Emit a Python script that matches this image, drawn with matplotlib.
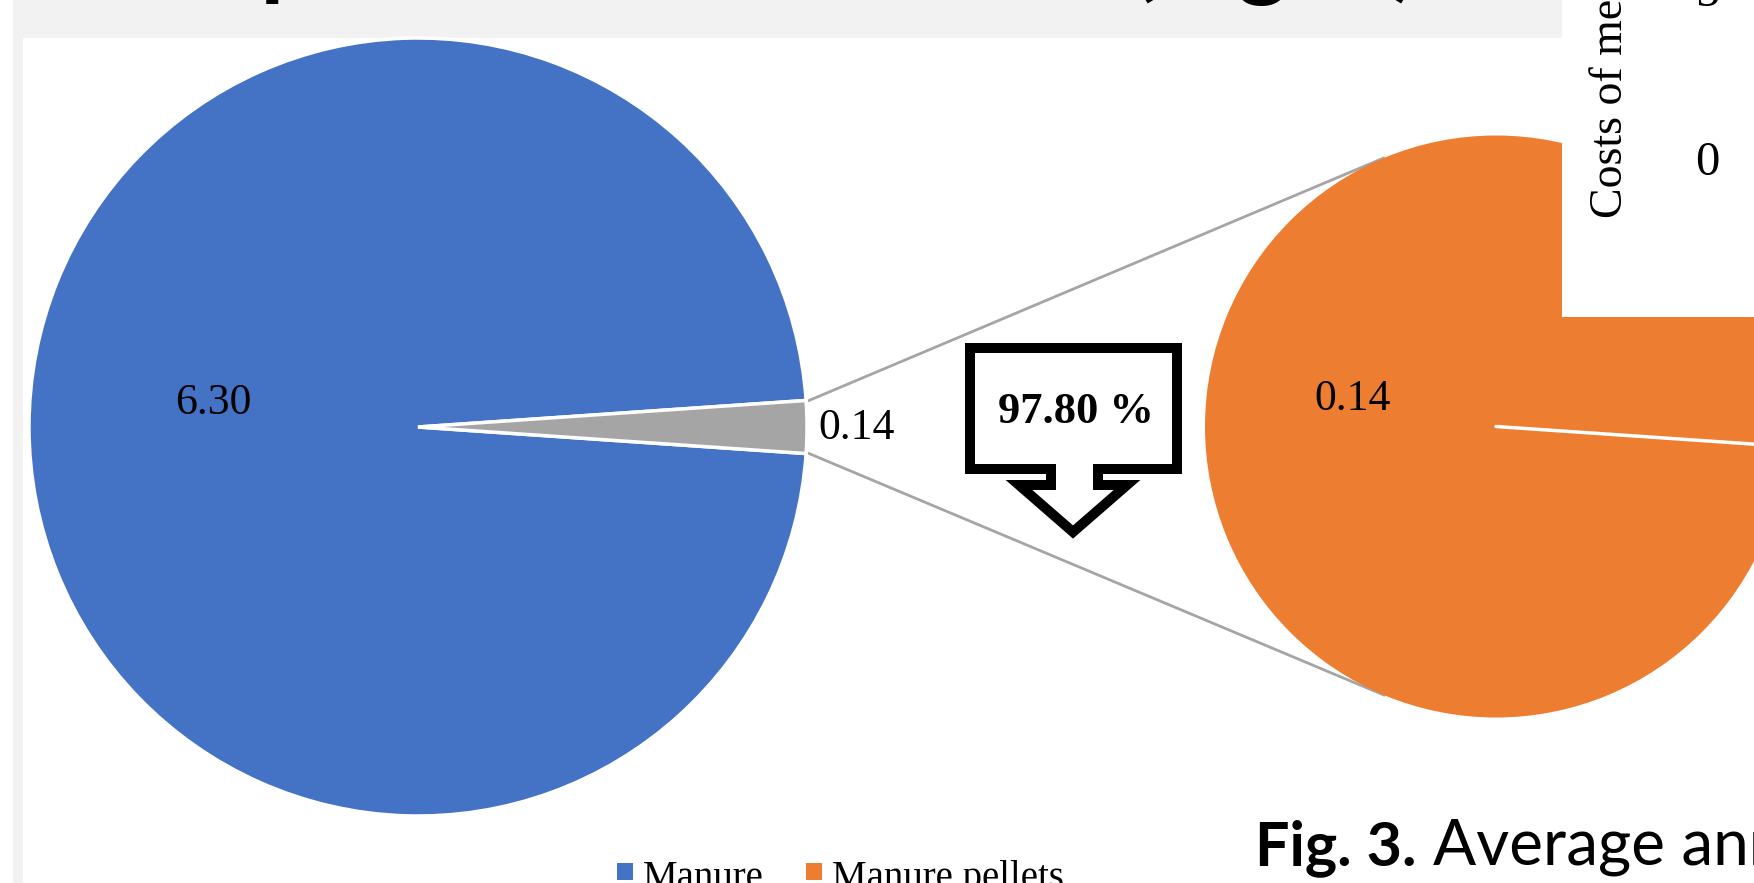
import numpy as np
import matplotlib
matplotlib.use("Agg")
import matplotlib.pyplot as plt
from matplotlib.patches import Rectangle, Polygon
from matplotlib.font_manager import FontProperties
from matplotlib.textpath import TextPath

# ---------------- data ----------------
categories = ["Manure", "Manure pellets"]
costs = [6.30, 0.14]
label_texts = ["6.30", "0.14"]
reduction_text = "97.80 %"
inset_ylabel = "Costs of measures"
inset_ticks = ["0", "5"]
title_text = "Comparison of the costs (Fig. 3)"
caption_bold = "Fig. 3."
caption_rest = "Average annual costs of manure"

# ---------------- style ----------------
BLUE = "#4472C4"
ORANGE = "#ED7D31"
GREY = "#A5A5A5"
BAND = "#F2F2F2"
SERIF = "Liberation Serif"
SANS = "Lato"
DPI = 100

W, H = 1754, 883
fig = plt.figure(figsize=(W / DPI, H / DPI), dpi=DPI)
fig.patch.set_facecolor("white")
ax = fig.add_axes([0, 0, 1, 1])


def Y(y):
    return H - y


# slide background pieces
ax.add_patch(Rectangle((13, Y(38)), 1562 - 13, 38, color=BAND, zorder=0, lw=0))
ax.add_patch(Rectangle((13, 0), 10, H, color=BAND, zorder=0, lw=0))

# ---------------- title (only descenders visible at top edge) ----------------
ref_size = 60.0
fp = FontProperties(family=SANS, weight="bold")


def ext(s):
    return TextPath((0, 0), s, size=ref_size, prop=fp).get_extents()


left_ink = ext(title_text).x0


def center_of(i):
    c = ext(title_text[: i + 1]).x1 - ext(title_text[i]).width / 2.0
    return (c - left_ink) * DPI / 72.0


idx = [title_text.index("p"), title_text.index("("), title_text.index("g"),
       title_text.index(")")]
targets = np.array([287.0, 1141.0, 1253.0, 1409.0])
u = np.array([center_of(i) for i in idx])
A = np.vstack([np.ones_like(u), u]).T
x0, s = np.linalg.lstsq(A, targets, rcond=None)[0]
title_size = ref_size * s
ax.text(x0, Y(6), title_text, fontsize=title_size, fontweight="bold",
        family=SANS, ha="left", va="bottom", color="black", zorder=1)

# ---------------- main pie ----------------
total = sum(costs)
half = 180.0 * costs[1] / total  # half angle of the small slice (deg)
c1 = (418, Y(427))
r1 = 389
ax.pie(costs, colors=[BLUE, GREY], startangle=half, counterclock=True,
       center=c1, radius=r1, frame=True,
       wedgeprops=dict(edgecolor="white", linewidth=2.5, zorder=2))

# ---------------- secondary pie ----------------
c2 = (1496, Y(426.5))
r2 = 291
ax.pie([costs[1]], colors=[ORANGE], startangle=-half, center=c2, radius=r2,
       frame=True, wedgeprops=dict(edgecolor="none", zorder=2))
a = np.deg2rad(-half)
ax.plot([c2[0], c2[0] + r2 * 1.2 * np.cos(a)], [c2[1], c2[1] + r2 * 1.2 * np.sin(a)],
        color="white", lw=2.5, solid_capstyle="round", zorder=3)

# connector lines (tangent from slice corners to secondary pie)
for sgn in (1, -1):
    ang = np.deg2rad(sgn * half)
    P = np.array([c1[0] + r1 * np.cos(ang), c1[1] + r1 * np.sin(ang)])
    C = np.array(c2)
    d = np.linalg.norm(P - C)
    base = np.arctan2(P[1] - C[1], P[0] - C[0])
    t = base - sgn * np.arccos(r2 / d)
    T = C + r2 * np.array([np.cos(t), np.sin(t)])
    ax.plot([P[0] + 3, T[0]], [P[1], T[1]], color=GREY, lw=2.0, zorder=1.5)

# data labels
ax.text(213, Y(403), label_texts[0], family=SERIF, fontsize=31.5, ha="center",
        va="center", zorder=4)
ax.text(818, Y(428), label_texts[1], family=SERIF, fontsize=31.5, ha="left",
        va="center", zorder=4)
ax.text(1353, Y(399), label_texts[1], family=SERIF, fontsize=31.5, ha="center",
        va="center", zorder=4)

# ---------------- callout arrow ----------------
pts = [(970, 348), (1177, 348), (1177, 469), (1098, 469), (1098, 485),
       (1127, 485), (1073, 532), (1019, 485), (1051, 485), (1051, 469),
       (970, 469)]
ax.add_patch(Polygon([(x, Y(y)) for x, y in pts], closed=True, facecolor="white",
                     edgecolor="black", lw=7.2, joinstyle="miter", zorder=5))
ax.text(1076, Y(412), reduction_text, family=SERIF, fontweight="bold", fontsize=32,
        ha="center", va="center", zorder=6)

# ---------------- legend ----------------
leg_colors = [BLUE, ORANGE]
leg_x = [617, 806]
for cx, col, lab in zip(leg_x, leg_colors, categories):
    ax.add_patch(Rectangle((cx, Y(880)), 16, 17, color=col, lw=0, zorder=4))
    ax.text(cx + 26, Y(888), lab, family=SERIF, fontsize=28, ha="left",
            va="baseline", zorder=4)

# ---------------- caption ----------------
ax.text(1255, Y(865), caption_bold, family=SANS, fontweight="bold", fontsize=44,
        ha="left", va="baseline", zorder=4)
ax.text(1433, Y(865), caption_rest, family=SANS, fontsize=46,
        ha="left", va="baseline", zorder=4)

# ---------------- inset (overlapping screenshot) ----------------
ax.add_patch(Rectangle((1562, Y(317)), W - 1562, 317 + 5, facecolor="white",
                       lw=0, zorder=7))
ax.text(1622, Y(218), inset_ylabel, family=SERIF, fontsize=33, rotation=90,
        rotation_mode="anchor", ha="left", va="baseline", zorder=8)
ax.text(1707, Y(163), inset_ticks[0], family=SERIF, fontsize=35, ha="center",
        va="center", zorder=8)
ax.text(1707, Y(-6), inset_ticks[1], family=SERIF, fontsize=35, ha="center",
        va="center", zorder=8)

ax.set_xlim(0, W)
ax.set_ylim(0, H)
ax.set_aspect("equal")
ax.axis("off")

fig.savefig("out.png", dpi=DPI, facecolor="white")
